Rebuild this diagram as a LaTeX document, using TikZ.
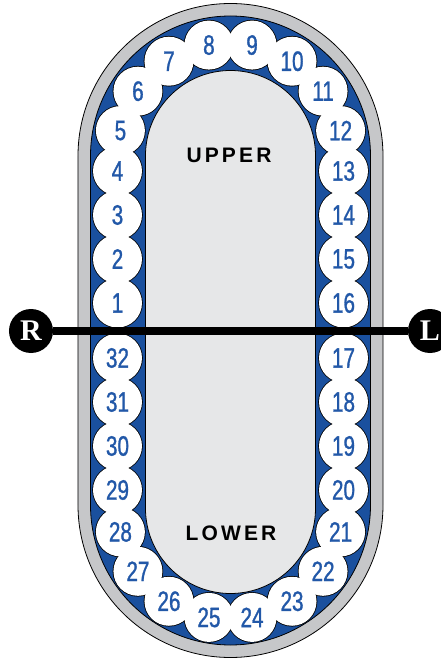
\documentclass[tikz,border=0pt]{standalone}
\usepackage{fontspec}
\usepackage{tikz}
\usetikzlibrary{positioning,calc}
\definecolor{trackGray}{RGB}{198, 199, 201}
\definecolor{trackBlue}{RGB}{26, 80, 158}
\definecolor{padGray}{RGB}{230, 231, 232}
\definecolor{numBlue}{RGB}{34, 88, 168}
\newfontfamily\toothfont[FakeStretch=0.74, FakeBold=1]{Liberation Sans}
\newfontfamily\archfont[LetterSpace=15]{Liberation Sans}
\newfontfamily\sidefont{Liberation Serif}
% stadium outline: radius, centre of upper arc, centre of lower arc
\newcommand{\trackpath}[3]{(-#1,#3) -- (-#1,#2) arc[start angle=180, end angle=0, radius=#1pt] -- (#1,#3) arc[start angle=0, end angle=-180, radius=#1pt] -- cycle}
\tikzset{
  tooth/.style={circle, fill=white, minimum size=49pt, inner sep=0pt, text=numBlue,
    font=\toothfont\fontsize{28}{28}\selectfont},
  archlabel/.style={font=\archfont\bfseries\fontsize{21}{21}\selectfont, inner sep=0pt},
  sidemark/.style={circle, fill=black, minimum size=44pt, inner sep=0pt, text=white,
    font=\sidefont\bfseries\fontsize{30}{30}\selectfont}
}

\begin{document}
\begin{tikzpicture}[x=1pt, y=1pt, line width=0.8pt]
        \useasboundingbox (-230.5,-328.5) rectangle (210.5,330.5);
        % Outer gray band
        \filldraw[fill=trackGray, draw=black] \trackpath{152.5}{174.5}{-174.5};
        % Blue band under the teeth
        \filldraw[fill=trackBlue, draw=black] \trackpath{140}{174.5}{-174.5};
        % Inner light gray area
        \filldraw[fill=padGray, draw=black] \trackpath{85}{175}{-178};
        % Tooth centres, counted round from 1 to 32
        \foreach \n in {1,...,4} \coordinate (p\n) at (-113,{27.5+44*(\n-1)});
        \foreach \n in {5,...,12} \coordinate (p\n) at ({113*cos(167-22*(\n-5))},{174.5+113*sin(167-22*(\n-5))});
        \foreach \n in {13,...,16} \coordinate (p\n) at (113,{159.5-44*(\n-13)});
        \foreach \n in {17,...,20} \coordinate (p\n) at (113,{-27.5-44*(\n-17)});
        \foreach \n in {21,...,28} \coordinate (p\n) at ({113*cos(-13-22*(\n-21))},{-176+113*sin(-13-22*(\n-21))});
        \foreach \n in {29,...,32} \coordinate (p\n) at (-113,{-159.5+44*(\n-29)});
        % Outlines first, so only the outer edge of the row is left
        \foreach \n in {1,...,32} \draw[line width=1.6pt] (p\n) circle[radius=24.5pt];
        \foreach \n in {1,...,32} \node[tooth] (t\n) at (p\n) {\n};
        % Arch names
        \node[archlabel] (upper) at (-1.5,175) {UPPER};
        \node[archlabel] (lower) at (0.5,-203) {LOWER};
        % Right and left markers with the dividing line
        \node[sidemark] (sideR) at (-199.5,-0.5) {R};
        \node[sidemark] (sideL) at (199.5,-0.5) {L};
        \draw[line width=8pt] (sideR) -- (sideL);
    \end{tikzpicture}
\end{document}
